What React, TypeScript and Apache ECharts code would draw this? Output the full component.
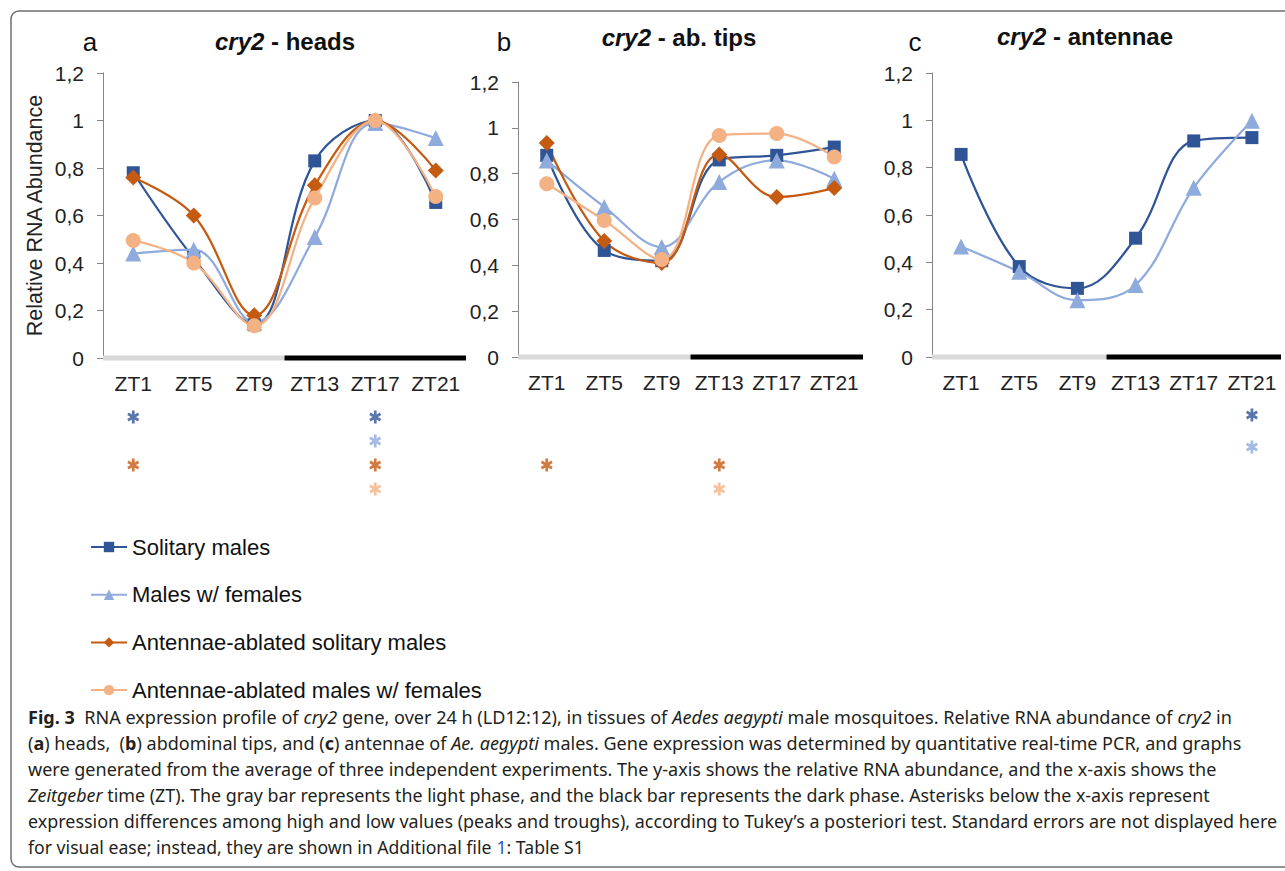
import React, { useEffect, useRef } from 'react';
import * as echarts from 'echarts';

// ---------------- data ----------------
const categories = ['ZT1', 'ZT5', 'ZT9', 'ZT13', 'ZT17', 'ZT21'];
const groupNames = [
  'Solitary males',
  'Males w/ females',
  'Antennae-ablated solitary males',
  'Antennae-ablated males w/ females',
];

const headsSolitary = [0.78, 0.42, 0.14, 0.83, 1.0, 0.655];
const headsWithFemales = [0.44, 0.456, 0.15, 0.51, 0.99, 0.926];
const headsAblatedSolitary = [0.76, 0.6, 0.18, 0.727, 1.0, 0.79];
const headsAblatedWithFemales = [0.495, 0.4, 0.136, 0.674, 1.0, 0.68];

const tipsSolitary = [0.88, 0.465, 0.42, 0.86, 0.88, 0.916];
const tipsWithFemales = [0.858, 0.655, 0.48, 0.764, 0.858, 0.778];
const tipsAblatedSolitary = [0.934, 0.506, 0.41, 0.884, 0.698, 0.737];
const tipsAblatedWithFemales = [0.756, 0.596, 0.425, 0.967, 0.975, 0.873];

const antennaeSolitary = [0.856, 0.382, 0.29, 0.502, 0.913, 0.927];
const antennaeWithFemales = [0.467, 0.36, 0.24, 0.304, 0.715, 0.998];

// Tukey significance marks (asterisks), per group
const sigHeads = [['ZT1', 'ZT17'], ['ZT17'], ['ZT1', 'ZT17'], ['ZT17']];
const sigTips = [[], [], ['ZT1', 'ZT13'], ['ZT13']];
const sigAntennae = [['ZT21'], ['ZT21']];

// light / dark phase in hours (LD12:12)
const lightPhase = [0, 12];
const darkPhase = [12, 24];

const yMin = 0;
const yMax = 1.2;
const yInterval = 0.2;

// ---------------- styles ----------------
const FONT = "'Liberation Sans', Arial, sans-serif";
const CAP_FONT = "'Noto Sans', 'Open Sans', sans-serif";
const groupColors = ['#2F5597', '#8FAADC', '#C55A11', '#F4B183'];
const groupSymbols = ['rect', 'triangle', 'diamond', 'circle'];
const groupSymbolSizes = [13, 16, 16, 15];

const panels = [
  {
    letter: 'a', tissue: 'heads',
    data: [headsSolitary, headsWithFemales, headsAblatedSolitary, headsAblatedWithFemales],
    sig: sigHeads,
    grid: { left: 103, top: 73, width: 363, height: 285 },
    sigGrid: { top: 405, height: 96 },
    letterX: 90, letterY: 42, titleX: 285, titleY: 41,
    yName: 'Relative RNA Abundance',
  },
  {
    letter: 'b', tissue: 'ab. tips',
    data: [tipsSolitary, tipsWithFemales, tipsAblatedSolitary, tipsAblatedWithFemales],
    sig: sigTips,
    grid: { left: 518, top: 82, width: 345, height: 275 },
    sigGrid: { top: 405, height: 96 },
    letterX: 504, letterY: 42, titleX: 679, titleY: 37,
    yName: '',
  },
  {
    letter: 'c', tissue: 'antennae',
    data: [antennaeSolitary, antennaeWithFemales],
    sig: sigAntennae,
    grid: { left: 932, top: 73, width: 349, height: 284 },
    sigGrid: { top: 399, height: 64 },
    letterX: 915, letterY: 42, titleX: 1085, titleY: 36,
    yName: '',
  },
];

type Seg = [string, 'n' | 'b' | 'i' | 'l'];
const captionLines: Seg[][] = [
  [['Fig. 3', 'b'], ['  RNA expression profile of ', 'n'], ['cry2', 'i'], [' gene, over 24 h (LD12:12), in tissues of ', 'n'], ['Aedes aegypti', 'i'], [' male mosquitoes. Relative RNA abundance of ', 'n'], ['cry2', 'i'], [' in', 'n']],
  [['(', 'n'], ['a', 'b'], [') heads,  (', 'n'], ['b', 'b'], [') abdominal tips, and (', 'n'], ['c', 'b'], [') antennae of ', 'n'], ['Ae. aegypti', 'i'], [' males. Gene expression was determined by quantitative real-time PCR, and graphs', 'n']],
  [['were generated from the average of three independent experiments. The y-axis shows the relative RNA abundance, and the x-axis shows the', 'n']],
  [['Zeitgeber', 'i'], [' time (ZT). The gray bar represents the light phase, and the black bar represents the dark phase. Asterisks below the x-axis represent', 'n']],
  [['expression differences among high and low values (peaks and troughs), according to Tukey\u2019s a posteriori test. Standard errors are not displayed here', 'n']],
  [['for visual ease; instead, they are shown in Additional file ', 'n'], ['1', 'l'], [': Table S1', 'n']],
];
const captionRight = [1232, 1242, 1217, 1211, 1278, 584];
const captionY = [717, 743, 769, 795, 821, 847];
const captionLeft = 28;
const CAP_SIZE = 18;

function capStyle(k: string) {
  return {
    fontFamily: CAP_FONT,
    fontSize: CAP_SIZE,
    fontWeight: k === 'b' ? 'bold' : 'normal',
    fontStyle: k === 'i' ? 'italic' : 'normal',
    fill: k === 'l' ? '#2d55c9' : '#231f20',
  };
}

function measureSegs(segs: Seg[]): number {
  const ctx = document.createElement('canvas').getContext('2d');
  if (!ctx) return 1;
  let w = 0;
  for (const [t, k] of segs) {
    const s = capStyle(k);
    ctx.font = `${s.fontStyle} ${s.fontWeight} ${CAP_SIZE}px ${CAP_FONT}`;
    w += ctx.measureText(t).width;
  }
  return w;
}

function asteriskSymbol(): string {
  const L = 6, W = 1.35;
  let d = '';
  for (const deg of [90, 30, 150]) {
    const t = (deg * Math.PI) / 180;
    const dx = Math.cos(t), dy = Math.sin(t);
    const nx = -dy, ny = dx;
    const pts = [
      [L * dx + W * nx, L * dy + W * ny],
      [L * dx - W * nx, L * dy - W * ny],
      [-L * dx - W * nx, -L * dy - W * ny],
      [-L * dx + W * nx, -L * dy + W * ny],
    ];
    d += 'M' + pts.map((p) => p[0].toFixed(3) + ',' + p[1].toFixed(3)).join('L') + 'Z';
  }
  return 'path://' + d;
}

function yLabel(v: number) {
  return String(Math.round(v * 10) / 10).replace('.', ',');
}

export default function App() {
  const ref = useRef<HTMLDivElement>(null);

  useEffect(() => {
    if (!ref.current) return;
    const chart = echarts.init(ref.current, undefined, { renderer: 'svg' });
    const AST = asteriskSymbol();

    const grids: any[] = [];
    const xAxes: any[] = [];
    const yAxes: any[] = [];
    const series: any[] = [];
    const graphic: any[] = [];

    panels.forEach((p, i) => {
      grids.push({ ...p.grid, outerBoundsMode: 'none', containLabel: false });
      grids.push({ left: p.grid.left, width: p.grid.width, top: p.sigGrid.top, height: p.sigGrid.height, outerBoundsMode: 'none', containLabel: false });

      xAxes.push({
        type: 'category', gridIndex: 2 * i, data: categories, boundaryGap: true,
        axisLine: { show: false }, axisTick: { show: false }, splitLine: { show: false },
        axisLabel: { interval: 0, margin: 15, fontSize: 21, color: '#222', fontFamily: FONT },
      });
      xAxes.push({ type: 'value', gridIndex: 2 * i, min: 0, max: 24, show: false });
      xAxes.push({ type: 'category', gridIndex: 2 * i + 1, data: categories, boundaryGap: true, show: false });

      yAxes.push({
        type: 'value', gridIndex: 2 * i, min: yMin, max: yMax, interval: yInterval,
        name: p.yName, nameLocation: 'middle', nameGap: 57,
        nameTextStyle: { fontSize: 21.5, color: '#222', fontFamily: FONT },
        axisLine: { show: true, lineStyle: { color: '#868686', width: 1 } },
        axisTick: { show: true, length: 6, lineStyle: { color: '#868686', width: 1 } },
        splitLine: { show: false },
        axisLabel: { margin: 19, fontSize: 21, color: '#222', fontFamily: FONT, formatter: yLabel },
      });
      const rows = groupNames.slice(0, p.data.length);
      yAxes.push({ type: 'category', gridIndex: 2 * i + 1, data: rows, inverse: true, show: false });

      // phase bars
      series.push({
        type: 'line', name: 'Light phase', xAxisIndex: 3 * i + 1, yAxisIndex: 2 * i,
        data: lightPhase.map((h) => [h, 0]), symbol: 'none', clip: false, silent: true, z: 1,
        lineStyle: { color: '#d9d9d9', width: 5, cap: 'butt' },
      });
      series.push({
        type: 'line', name: 'Dark phase', xAxisIndex: 3 * i + 1, yAxisIndex: 2 * i,
        data: darkPhase.map((h) => [h, 0]), symbol: 'none', clip: false, silent: true, z: 1,
        lineStyle: { color: '#000000', width: 5, cap: 'butt' },
      });

      p.data.forEach((vals, g) => {
        series.push({
          type: 'line', name: groupNames[g], xAxisIndex: 3 * i, yAxisIndex: 2 * i,
          data: vals, smooth: 0.38, symbol: groupSymbols[g], symbolSize: groupSymbolSizes[g],
          lineStyle: { color: groupColors[g], width: 2.25 },
          itemStyle: { color: groupColors[g] },
          z: 3,
        });
      });

      p.sig.forEach((cols, g) => {
        if (!cols.length) return;
        series.push({
          type: 'scatter', name: groupNames[g] + ' (Tukey)', xAxisIndex: 3 * i + 2, yAxisIndex: 2 * i + 1,
          data: cols.map((c) => [c, groupNames[g]]), symbol: AST, symbolSize: [12, 13],
          itemStyle: { color: groupColors[g] }, silent: true,
        });
      });

      graphic.push({
        type: 'text', x: p.letterX, y: p.letterY,
        style: { text: p.letter, fontSize: 26, fontFamily: FONT, fill: '#111', align: 'center', verticalAlign: 'middle' },
      });
      graphic.push({
        type: 'text', x: p.titleX, y: p.titleY,
        style: {
          text: '{i|cry2}{b| - ' + p.tissue + '}',
          align: 'center', verticalAlign: 'middle',
          fontSize: 24, fontFamily: FONT, fontWeight: 'bold', fill: '#111',
          rich: {
            i: { fontSize: 24, fontFamily: FONT, fontWeight: 'bold', fontStyle: 'italic', fill: '#111' },
            b: { fontSize: 24, fontFamily: FONT, fontWeight: 'bold', fill: '#111' },
          },
        },
      });
    });

    // frame
    graphic.push({
      type: 'rect', shape: { x: 11, y: 11, width: 1300, height: 856, r: 8 },
      style: { fill: 'none', stroke: '#6f6f6f', lineWidth: 1.5 }, silent: true,
    });

    // caption
    captionLines.forEach((segs, li) => {
      const w = measureSegs(segs);
      const target = captionRight[li] - captionLeft;
      const sx = w > 0 ? target / w : 1;
      const rich: any = {};
      ['n', 'b', 'i', 'l'].forEach((k) => { rich[k] = capStyle(k); });
      graphic.push({
        type: 'text', x: captionLeft, y: captionY[li], scaleX: sx,
        style: {
          text: segs.map(([t, k]) => '{' + k + '|' + t + '}').join(''),
          fontSize: CAP_SIZE, fontFamily: CAP_FONT, fill: '#231f20',
          align: 'left', verticalAlign: 'middle', rich,
        },
      });
    });

    chart.setOption({
      animation: false,
      backgroundColor: '#ffffff',
      textStyle: { fontFamily: FONT },
      grid: grids,
      xAxis: xAxes,
      yAxis: yAxes,
      legend: {
        orient: 'vertical', left: 90, top: 536, padding: 0, itemWidth: 36, itemHeight: 13, itemGap: 25.7,
        selectedMode: false, data: groupNames,
        textStyle: { fontSize: 22, color: '#111', fontFamily: FONT },
      },
      series,
      graphic,
    });

    return () => chart.dispose();
  }, []);

  return (
    <div
      ref={ref}
      style={{ position: 'fixed', left: 0, top: 0, width: 1285, height: 871, background: '#fff' }}
    />
  );
}
